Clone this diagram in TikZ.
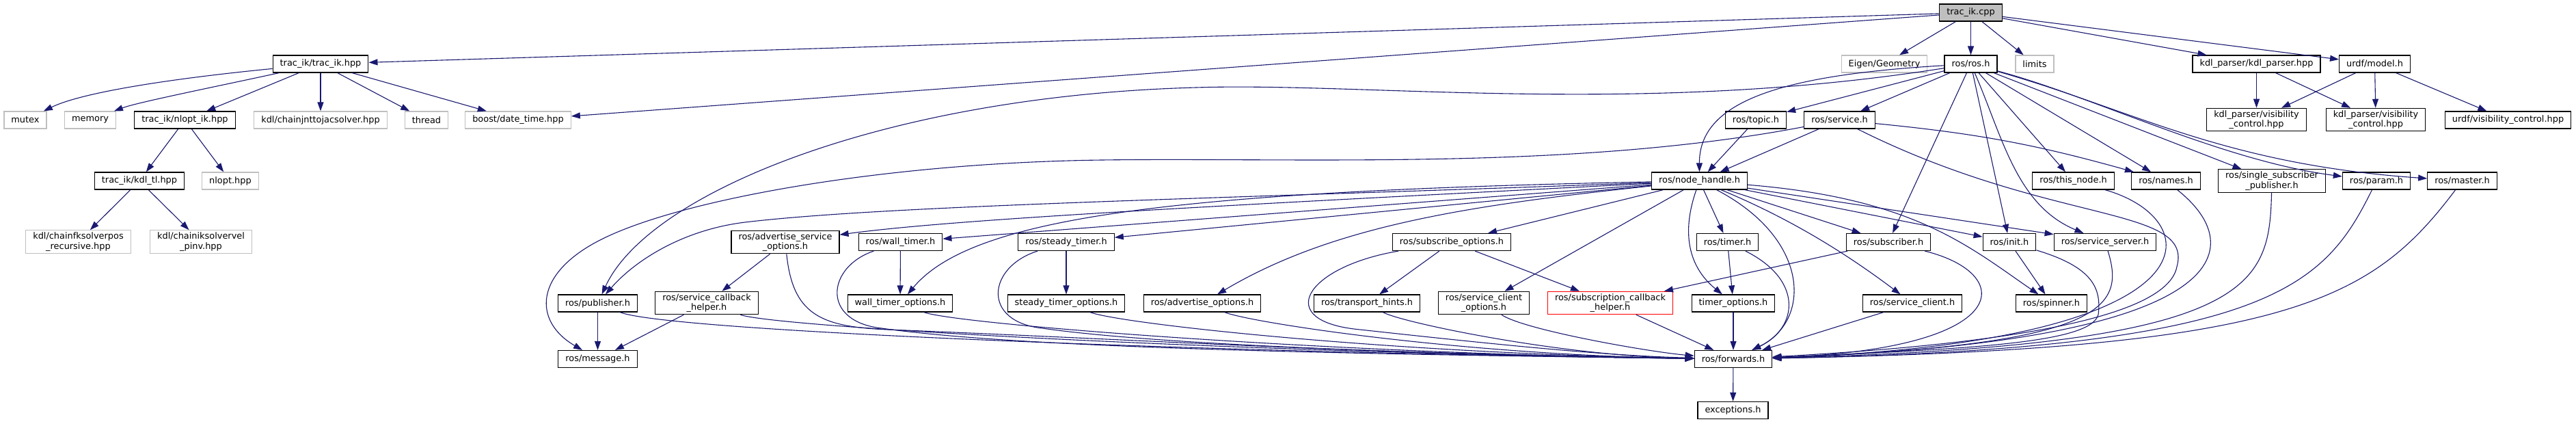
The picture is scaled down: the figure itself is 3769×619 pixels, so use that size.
\documentclass[tikz,border=0pt]{standalone}
\usepackage{fontspec}
\setmainfont{DejaVu Sans}
\usepackage{xcolor}
\usepackage{tikz}
\usetikzlibrary{arrows.meta}
\definecolor{edgecol}{RGB}{25,25,112}
\definecolor{syscol}{RGB}{191,191,191}
\tikzset{
  hdr/.style={draw=black,fill=white,line width=1.2pt,inner xsep=10.5pt,inner ysep=3pt,minimum height=25pt,align=center,font=\fontsize{12.9}{14.5}\selectfont},
  sysinc/.style={hdr,draw=syscol},
  rootbox/.style={hdr,fill=syscol},
  cutbox/.style={hdr,draw=red},
  dep/.style={draw=edgecol,line width=1.1pt,-{Stealth[length=13pt,width=9pt,inset=0pt]}}
}

\begin{document}
\begin{tikzpicture}[x=1pt,y=-1pt]
  \useasboundingbox (0,0) rectangle (3769,619);
  \node[rootbox] (cpp) at (2883.5,18.5) {trac\_ik.cpp};
  \node[hdr] (trachpp) at (469,93.5) {trac\_ik/trac\_ik.hpp};
  \node[sysinc] (eigen) at (2757,93.5) {Eigen/Geometry};
  \node[hdr] (rosh) at (2883.5,93.5) {ros/ros.h};
  \node[sysinc] (limits) at (2977,93.5) {limits};
  \node[hdr] (kdlparser) at (3301.5,93.5) {kdl\_parser/kdl\_parser.hpp};
  \node[hdr] (urdfmodel) at (3474.5,93.5) {urdf/model.h};
  \node[sysinc] (mutex) at (37,175.5) {mutex};
  \node[sysinc] (memory) at (132,175.5) {memory};
  \node[hdr] (nloptik) at (270.5,175.5) {trac\_ik/nlopt\_ik.hpp};
  \node[sysinc] (jacsolver) at (469,175.5) {kdl/chainjnttojacsolver.hpp};
  \node[sysinc] (thread) at (624,175.5) {thread};
  \node[sysinc] (datetime) at (758,175.5) {boost/date\_time.hpp};
  \node[hdr] (topic) at (2569,175.5) {ros/topic.h};
  \node[hdr] (service) at (2691.5,175.5) {ros/service.h};
  \node[hdr] (kdlvisa) at (3301.5,175) {kdl\_parser/visibility\\\_control.hpp};
  \node[hdr] (kdlvisb) at (3476,175) {kdl\_parser/visibility\\\_control.hpp};
  \node[hdr] (urdfvis) at (3669.5,175.5) {urdf/visibility\_control.hpp};
  \node[hdr] (kdltl) at (204,264.5) {trac\_ik/kdl\_tl.hpp};
  \node[sysinc] (nlopthpp) at (337,264.5) {nlopt.hpp};
  \node[hdr] (nh) at (2486.5,264.5) {ros/node\_handle.h};
  \node[hdr] (thisnode) at (3033.5,264.5) {ros/this\_node.h};
  \node[hdr] (names) at (3169,264.5) {ros/names.h};
  \node[hdr] (ssp) at (3324,264.5) {ros/single\_subscriber\\\_publisher.h};
  \node[hdr] (param) at (3477,264.5) {ros/param.h};
  \node[hdr] (master) at (3602.5,264.5) {ros/master.h};
  \node[sysinc] (fksolver) at (114.5,353.5) {kdl/chainfksolverpos\\\_recursive.hpp};
  \node[sysinc] (iksolver) at (294,353.5) {kdl/chainiksolvervel\\\_pinv.hpp};
  \node[hdr] (advsrvopts) at (1149,354) {ros/advertise\_service\\\_options.h};
  \node[hdr] (walltimer) at (1317.5,354) {ros/wall\_timer.h};
  \node[hdr] (steadytimer) at (1560,354) {ros/steady\_timer.h};
  \node[hdr] (subopts) at (2124,354) {ros/subscribe\_options.h};
  \node[hdr] (timer) at (2527.5,354) {ros/timer.h};
  \node[hdr] (subscriber) at (2763,354) {ros/subscriber.h};
  \node[hdr] (init) at (2940,354) {ros/init.h};
  \node[hdr] (srvserver) at (3080,354) {ros/service\_server.h};
  \node[hdr] (pub) at (874.5,443.5) {ros/publisher.h};
  \node[hdr] (srvcb) at (1034,443) {ros/service\_callback\\\_helper.h};
  \node[hdr] (walltopts) at (1317,443.5) {wall\_timer\_options.h};
  \node[hdr] (steadytopts) at (1560,443.5) {steady\_timer\_options.h};
  \node[hdr] (advopts) at (1759,443.5) {ros/advertise\_options.h};
  \node[hdr] (transport) at (2000,443.5) {ros/transport\_hints.h};
  \node[hdr] (srvclopts) at (2171,443) {ros/service\_client\\\_options.h};
  \node[cutbox] (subcb) at (2356,443) {ros/subscription\_callback\\\_helper.h};
  \node[hdr] (timeropts) at (2536,443.5) {timer\_options.h};
  \node[hdr] (srvclient) at (2798,443.5) {ros/service\_client.h};
  \node[hdr] (spinner) at (3001.5,443.5) {ros/spinner.h};
  \node[hdr] (message) at (874.5,525) {ros/message.h};
  \node[hdr] (fwd) at (2536,525) {ros/forwards.h};
  \node[hdr] (exceptions) at (2535.5,600) {exceptions.h};
  \draw[dep] (cpp) -- (trachpp);
  \draw[dep] (cpp) -- (datetime);
  \draw[dep] (cpp) -- (eigen);
  \draw[dep] (cpp) -- (rosh);
  \draw[dep] (cpp) -- (limits);
  \draw[dep] (cpp) -- (kdlparser);
  \draw[dep] (cpp) -- (urdfmodel);
  \draw[dep] (trachpp) .. controls (250,115) and (120,135) .. (mutex);
  \draw[dep] (trachpp) .. controls (300,130) and (200,150) .. (memory);
  \draw[dep] (trachpp) -- (nloptik);
  \draw[dep] (trachpp) -- (jacsolver);
  \draw[dep] (trachpp) -- (thread);
  \draw[dep] (trachpp) -- (datetime);
  \draw[dep] (nloptik) -- (kdltl);
  \draw[dep] (nloptik) -- (nlopthpp);
  \draw[dep] (kdltl) -- (fksolver);
  \draw[dep] (kdltl) -- (iksolver);
  \draw[dep] (kdlparser) -- (kdlvisa);
  \draw[dep] (kdlparser) -- (kdlvisb);
  \draw[dep] (urdfmodel) -- (kdlvisa);
  \draw[dep] (urdfmodel) -- (kdlvisb);
  \draw[dep] (urdfmodel) -- (urdfvis);
  \draw[dep] (rosh) .. controls (2600,110) and (2486,150) .. (nh);
  \draw[dep] (rosh) -- (topic);
  \draw[dep] (rosh) -- (service);
  \draw[dep] (rosh) .. controls (2400,170) and (2000,120) .. (1750,128) .. controls (1300,140) and (950,280) .. (pub);
  \draw[dep] (rosh) -- (subscriber);
  \draw[dep] (rosh) -- (init);
  \draw[dep] (rosh) .. controls (2930,200) and (2950,300) .. (srvserver);
  \draw[dep] (rosh) -- (thisnode);
  \draw[dep] (rosh) -- (names);
  \draw[dep] (rosh) -- (ssp);
  \draw[dep] (rosh) .. controls (3060,140) and (3250,235) .. (param);
  \draw[dep] (rosh) .. controls (3120,160) and (3250,240) .. (master);
  \draw[dep] (topic) -- (nh);
  \draw[dep] (service) -- (nh);
  \draw[dep] (service) to[bend left=5] (names);
  \draw[dep] (service) .. controls (2300,250) and (1900,230) .. (1612,234) .. controls (1300,238) and (1000,290) .. (880,350) .. controls (780,400) and (780,470) .. (message);
  \draw[dep] (service) .. controls (3000,330) and (3210,300) .. (3185,390) .. controls (3170,470) and (2900,505) .. (fwd);
  \draw[dep] (nh) .. controls (1800,290) and (1300,300) .. (1090,325) .. controls (1000,336) and (930,380) .. (pub);
  \draw[dep] (nh) .. controls (1800,300) and (1400,320) .. (advsrvopts);
  \draw[dep] (nh) -- (walltimer);
  \draw[dep] (nh) .. controls (1700,280) and (1420,320) .. (walltopts);
  \draw[dep] (nh) -- (steadytimer);
  \draw[dep] (nh) .. controls (2150,300) and (1950,330) .. (advopts);
  \draw[dep] (nh) -- (subopts);
  \draw[dep] (nh) -- (srvclopts);
  \draw[dep] (nh) -- (timer);
  \draw[dep] (nh) .. controls (2460,340) and (2470,390) .. (timeropts);
  \draw[dep] (nh) .. controls (2650,350) and (2650,470) .. (fwd);
  \draw[dep] (nh) -- (subscriber);
  \draw[dep] (nh) .. controls (2620,320) and (2700,370) .. (srvclient);
  \draw[dep] (nh) -- (init);
  \draw[dep] (nh) .. controls (2800,290) and (2880,360) .. (spinner);
  \draw[dep] (nh) -- (srvserver);
  \draw[dep] (advsrvopts) -- (srvcb);
  \draw[dep] (walltimer) -- (walltopts);
  \draw[dep] (steadytimer) -- (steadytopts);
  \draw[dep] (subopts) -- (transport);
  \draw[dep] (subopts) -- (subcb);
  \draw[dep] (timer) -- (timeropts);
  \draw[dep] (subscriber) -- (subcb);
  \draw[dep] (init) -- (spinner);
  \draw[dep] (pub) -- (message);
  \draw[dep] (srvcb) -- (message);
  \draw[dep] (pub) .. controls +(100,40) and +(-800,-10) .. (fwd);
  \draw[dep] (srvcb) .. controls +(100,35) and +(-750,-10) .. (fwd);
  \draw[dep] (advsrvopts) .. controls (1160,460) and (1200,478) .. (1300,482) .. controls (1700,498) and (2000,518) .. (fwd);
  \draw[dep] (walltimer) .. controls (1210,390) and (1200,470) .. (1290,480) .. controls (1500,510) and (2000,518) .. (fwd);
  \draw[dep] (walltopts) .. controls +(80,30) and +(-600,-8) .. (fwd);
  \draw[dep] (steadytimer) .. controls (1445,390) and (1435,470) .. (1525,480) .. controls (1700,505) and (2100,518) .. (fwd);
  \draw[dep] (steadytopts) .. controls +(80,30) and +(-500,-8) .. (fwd);
  \draw[dep] (advopts) .. controls +(70,28) and +(-400,-6) .. (fwd);
  \draw[dep] (transport) .. controls +(50,28) and +(-250,-4) .. (fwd);
  \draw[dep] (subopts) .. controls (1910,390) and (1860,470) .. (1990,482) .. controls (2200,505) and (2350,520) .. (fwd);
  \draw[dep] (srvclopts) .. controls +(60,40) and +(-120,-10) .. (fwd);
  \draw[dep] (subcb) -- (fwd);
  \draw[dep] (timer) .. controls (2640,410) and (2630,480) .. (fwd);
  \draw[dep] (timeropts) -- (fwd);
  \draw[dep] (srvclient) -- (fwd);
  \draw[dep] (subscriber) .. controls (2950,400) and (2950,510) .. (fwd);
  \draw[dep] (init) .. controls (3060,390) and (3075,420) .. (3070,460) .. controls (3060,500) and (2900,510) .. (fwd);
  \draw[dep] (srvserver) .. controls (3110,450) and (3080,505) .. (fwd);
  \draw[dep] (thisnode) .. controls (3230,320) and (3260,500) .. (fwd);
  \draw[dep] (names) .. controls (3290,360) and (3280,500) .. (fwd);
  \draw[dep] (ssp) .. controls (3320,420) and (3300,505) .. (fwd);
  \draw[dep] (param) .. controls (3400,420) and (3320,510) .. (fwd);
  \draw[dep] (master) .. controls (3470,440) and (3350,510) .. (fwd);
  \draw[dep] (fwd) -- (exceptions);
\end{tikzpicture}
\end{document}
